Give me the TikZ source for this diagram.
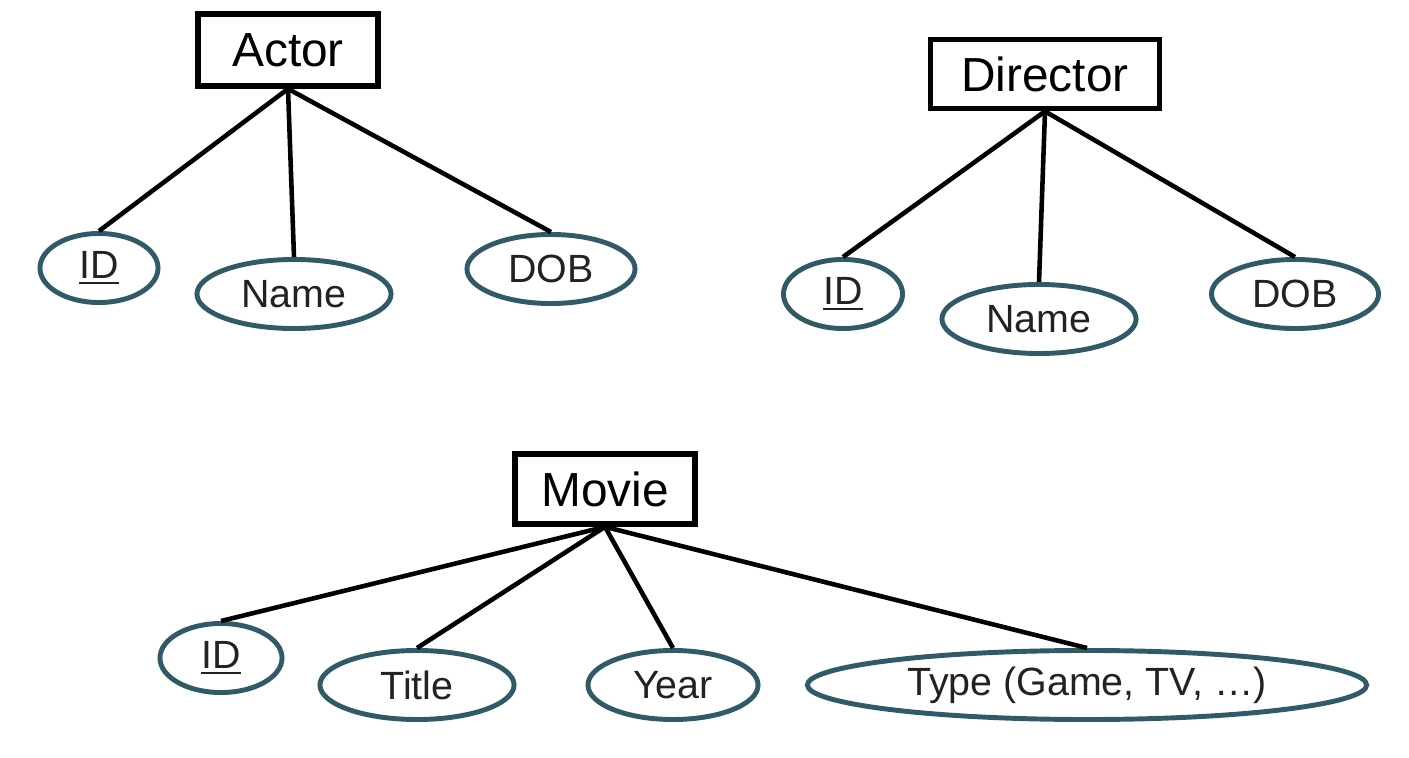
\documentclass[tikz,border=0pt]{standalone}
\usepackage{fontspec}
\setmainfont{Liberation Sans}
\usepackage{xcolor}
\usetikzlibrary{shapes.geometric}
\definecolor{ovalline}{HTML}{2F5A66}
\definecolor{txt}{HTML}{222222}

\begin{document}
\begin{tikzpicture}[x=0.01cm,y=-0.01cm,thick,
  entity node/.style={rectangle,draw,line width=1.6pt,inner sep=0pt,font=\fontsize{13.6}{15}\selectfont,text=black},
  attr node/.style={ellipse,draw=ovalline,line width=1.4pt,inner sep=0pt,minimum height=0.69cm,font=\fontsize{11.2}{13}\selectfont,text=txt}]
  \useasboundingbox (0,0) rectangle (1409,758);

  \node[entity node,minimum width=1.8cm,minimum height=0.72cm] (actor) at (288,50) {Actor};
  \node[entity node,minimum width=2.29cm,minimum height=0.69cm] (director) at (1045,74) {Director};
  \node[entity node,minimum width=1.8cm,minimum height=0.70cm] (movie) at (605,489) {Movie};

  \node[attr node,minimum width=1.18cm] (aid) at (99,268) {\underline{ID}};
  \node[attr node,minimum width=1.94cm] (aname) at (294,294) {Name};
  \node[attr node,minimum width=1.68cm] (adob) at (551,269) {DOB};

  \node[attr node,minimum width=1.19cm] (did) at (843,294) {\underline{ID}};
  \node[attr node,minimum width=1.94cm] (dname) at (1039,319) {Name};
  \node[attr node,minimum width=1.67cm] (ddob) at (1295,294) {DOB};

  \node[attr node,minimum width=1.22cm] (mid) at (221,658) {\underline{ID}};
  \node[attr node,minimum width=1.94cm] (mtitle) at (417,685) {Title};
  \node[attr node,minimum width=1.70cm] (myear) at (673,685) {Year};
  \node[attr node,minimum width=5.59cm] (mtype) at (1087,685) {Type (Game, TV, \dots)};

  \path[line width=1.3pt]
  (actor.south) edge (aid.north)
  (actor.south) edge (aname.north)
  (actor.south) edge (adob.north)
  (director.south) edge (did.north)
  (director.south) edge (dname.north)
  (director.south) edge (ddob.north)
  (movie.south) edge (mid.north)
  (movie.south) edge (mtitle.north)
  (movie.south) edge (myear.north)
  (movie.south) edge (mtype.north);
\end{tikzpicture}
\end{document}
